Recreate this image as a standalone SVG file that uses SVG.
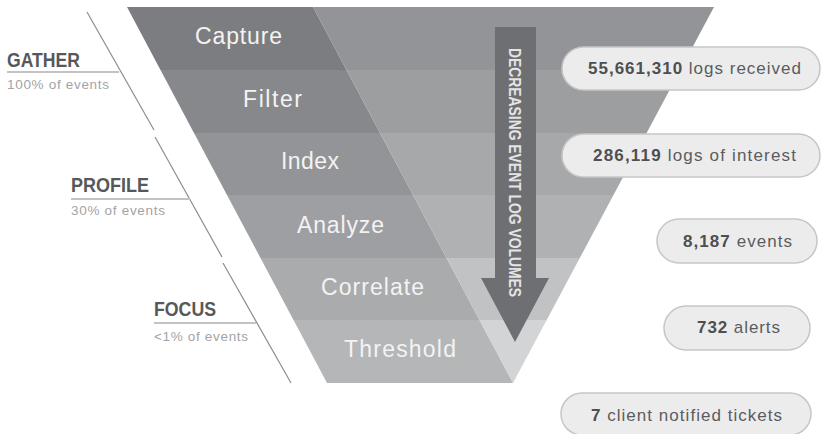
<svg xmlns="http://www.w3.org/2000/svg" width="824" height="434" viewBox="0 0 824 434">
<style>
.stage{font-family:"Liberation Sans",Arial,sans-serif;font-size:23px;fill:#f3f3f3}
.phase{font-family:"Liberation Sans",Arial,sans-serif;font-size:21px;font-weight:bold;fill:#57585a}
.sub{font-family:"Liberation Sans",Arial,sans-serif;font-size:13.5px;fill:#a3a3a5}
.uline{stroke:#c2c3c4;stroke-width:2.2;fill:none}
.diag{stroke:#8c8d8f;stroke-width:1.2;fill:none}
.pill{fill:#ececed;stroke:#c5c6c8;stroke-width:1.5}
.ptxt{font-family:"Liberation Sans",Arial,sans-serif;font-size:17px;fill:#5b5c5e}
.pnum{font-weight:bold;fill:#4e4f51}
.arrtxt{font-family:"Liberation Sans",Arial,sans-serif;font-size:16px;font-weight:bold;fill:#e4e4e5}
</style>
<rect width="824" height="434" fill="#ffffff"/>
<g id="funnel">
  <g id="stage-capture">
    <polygon points="127,7 313,7 346.5,70 160.5,70" fill="#7c7d80"/>
    <polygon points="313,7 714,7 680.3,70 346.5,70" fill="#939497"/>
    <text class="stage" x="195" y="44" textLength="87">Capture</text>
  </g>
  <g id="stage-filter">
    <polygon points="160.5,70 346.5,70 380,133 194,133" fill="#87888b"/>
    <polygon points="346.5,70 680.3,70 646.6,133 380,133" fill="#9d9ea0"/>
    <text class="stage" x="243" y="107" textLength="59">Filter</text>
  </g>
  <g id="stage-index">
    <polygon points="194,133 380,133 413,195 227,195" fill="#939497"/>
    <polygon points="380,133 646.6,133 613.5,195 413,195" fill="#a7a8aa"/>
    <text class="stage" x="281" y="169" textLength="58">Index</text>
  </g>
  <g id="stage-analyze">
    <polygon points="227,195 413,195 446.5,258 260.5,258" fill="#9e9fa2"/>
    <polygon points="413,195 613.5,195 579.8,258 446.5,258" fill="#b0b1b3"/>
    <text class="stage" x="297" y="233" textLength="87">Analyze</text>
  </g>
  <g id="stage-correlate">
    <polygon points="260.5,258 446.5,258 479.5,320 293.5,320" fill="#aaabad"/>
    <polygon points="446.5,258 579.8,258 546.7,320 479.5,320" fill="#c1c2c4"/>
    <text class="stage" x="321" y="295" textLength="103">Correlate</text>
  </g>
  <g id="stage-threshold">
    <polygon points="293.5,320 479.5,320 513,383 327,383" fill="#b5b6b8"/>
    <polygon points="479.5,320 546.7,320 513,383" fill="#d3d4d6"/>
    <text class="stage" x="344" y="357" textLength="112">Threshold</text>
  </g>
</g>
<g id="volume-arrow">
  <polygon points="495,27 536,27 536,278 549,278 515,342 481,278 495,278" fill="#6e6f72"/>
  <text class="arrtxt" transform="translate(509,48) rotate(90)" x="0" y="0" textLength="249" lengthAdjust="spacingAndGlyphs">DECREASING EVENT LOG VOLUMES</text>
</g>
<g id="connectors">
  <line class="diag" x1="87" y1="12" x2="154" y2="130"/>
  <line class="diag" x1="155" y1="137" x2="222" y2="257"/>
  <line class="diag" x1="223" y1="263" x2="291" y2="383"/>
</g>
<g id="phase-gather">
  <text class="phase" x="7" y="67" textLength="73" lengthAdjust="spacingAndGlyphs">GATHER</text>
  <line class="uline" x1="7" y1="72" x2="119" y2="72"/>
  <text class="sub" x="7" y="89" textLength="102">100% of events</text>
</g>
<g id="phase-profile">
  <text class="phase" x="71" y="192" textLength="78" lengthAdjust="spacingAndGlyphs">PROFILE</text>
  <line class="uline" x1="71" y1="199" x2="190" y2="199"/>
  <text class="sub" x="71" y="215" textLength="94">30% of events</text>
</g>
<g id="phase-focus">
  <text class="phase" x="154" y="316" textLength="62" lengthAdjust="spacingAndGlyphs">FOCUS</text>
  <line class="uline" x1="154" y1="323" x2="256" y2="323"/>
  <text class="sub" x="154" y="341" textLength="94">&lt;1% of events</text>
</g>
<g id="count-logs-received">
  <rect class="pill" x="562" y="47" width="258" height="43" rx="21.5"/>
  <text class="ptxt" x="588" y="74" textLength="213"><tspan class="pnum">55,661,310</tspan> logs received</text>
</g>
<g id="count-logs-interest">
  <rect class="pill" x="562" y="134" width="258" height="43" rx="21.5"/>
  <text class="ptxt" x="593" y="161" textLength="203"><tspan class="pnum">286,119</tspan> logs of interest</text>
</g>
<g id="count-events">
  <rect class="pill" x="657" y="219" width="160" height="44" rx="22"/>
  <text class="ptxt" x="683" y="247" textLength="109"><tspan class="pnum">8,187</tspan> events</text>
</g>
<g id="count-alerts">
  <rect class="pill" x="664" y="306" width="146" height="44" rx="22"/>
  <text class="ptxt" x="697" y="333" textLength="83"><tspan class="pnum">732</tspan> alerts</text>
</g>
<g id="count-tickets">
  <rect class="pill" x="561" y="393" width="250" height="42" rx="21"/>
  <text class="ptxt" x="591" y="421" textLength="191"><tspan class="pnum">7</tspan> client notified tickets</text>
</g>
</svg>
